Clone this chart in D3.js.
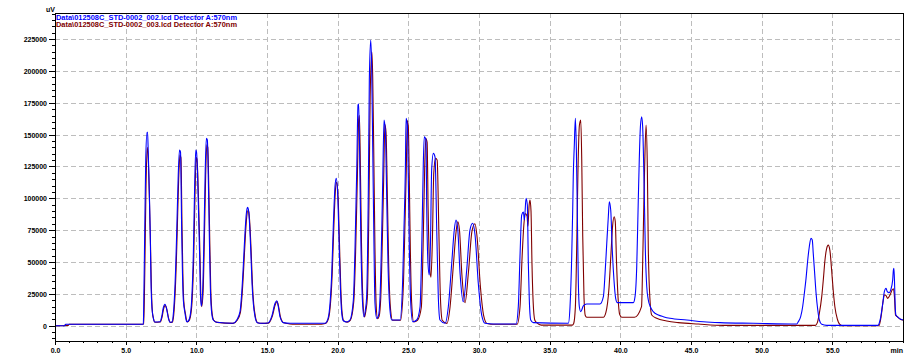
<!DOCTYPE html>
<html>
<head>
<meta charset="utf-8">
<script src="https://cdn.jsdelivr.net/npm/d3@7"></script>
<style>
  body { margin: 0; background: #fff; }
  svg text { font-family: "Liberation Sans", Arial, sans-serif; }
</style>
</head>
<body>
<svg id="chart" width="922" height="355"></svg>
<script>
// Legend / series names
var seriesNames = [
    "Data\\012508C_STD-0002_002.lcd Detector A:570nm",
    "Data\\012508C_STD-0002_003.lcd Detector A:570nm"
];
var seriesColors = ["#0000ff", "#800000"];

// Tick labels
var xTicks = [0, 5, 10, 15, 20, 25, 30, 35, 40, 45, 50, 55];
var yTicks = [0, 25000, 50000, 75000, 100000, 125000, 150000, 175000, 200000, 225000];

// Trace 002 (blue): [time min, signal uV]
var trace002 = [
[0,0],[0.7,0],[0.75,1100],[6.2,1200],[6.25,1300],[6.27,10500],[6.33,58100],[6.42,130000],[6.51,151800],[6.55,151800],
[6.60,135600],[6.67,106500],[6.74,71200],[6.79,35900],[6.86,13900],[6.96,6000],[7.05,2900],[7.43,3100],[7.55,7100],
[7.66,13900],[7.78,16800],[7.90,13100],[8.02,6000],[8.14,2700],[8.28,2900],[8.37,8900],[8.54,46300],[8.61,72800],
[8.72,118300],[8.81,137900],[8.88,136400],[8.96,77700],[9.01,46300],[9.08,20200],[9.20,9700],[9.32,3100],[9.43,3700],
[9.55,7100],[9.67,20200],[9.79,57100],[9.88,109100],[9.96,137900],[10.01,136400],[10.07,124800],[10.17,83000],
[10.24,51600],[10.28,28000],[10.35,15500],[10.45,28000],[10.54,69900],[10.63,122200],[10.71,147100],[10.78,145800],
[10.85,114300],[10.92,69900],[10.99,30600],[11.09,9700],[11.20,4500],[11.44,2700],[12.6,1900],[12.86,4500],
[13.09,11000],[13.21,25400],[13.32,46300],[13.44,72500],[13.54,88200],[13.62,92900],[13.68,91600],[13.75,83000],
[13.85,59400],[13.94,33300],[14.03,17600],[14.15,7100],[14.31,2400],[14.63,1900],[15.07,2100],[15.33,7100],
[15.57,17600],[15.69,19600],[15.80,14900],[15.92,7100],[16.15,2400],[16.63,1900],[19.10,1900],[19.32,5800],
[19.46,17600],[19.58,41100],[19.69,77700],[19.81,109100],[19.90,115700],[20.00,103900],[20.09,69900],[20.19,30600],
[20.29,9700],[20.40,3900],[20.64,2900],[20.87,4500],[21.11,20200],[21.23,62000],[21.35,122200],[21.44,173300],
[21.49,174000],[21.58,114300],[21.65,62000],[21.74,22800],[21.86,7100],[21.96,12300],[22.05,22800],[22.17,106500],
[22.24,192900],[22.34,224300],[22.41,200700],[22.48,140500],[22.57,62000],[22.64,17600],[22.76,5800],[22.88,7600],
[23.00,22800],[23.12,75100],[23.19,114300],[23.28,161500],[23.37,153600],[23.47,101300],[23.56,49000],[23.70,12300],
[23.82,4500],[24.41,4500],[24.60,35900],[24.69,75100],[24.79,122200],[24.84,162800],[24.93,157600],[25.00,114300],
[25.07,62000],[25.17,17600],[25.31,3100],[25.59,4500],[25.83,14900],[25.95,62000],[26.06,127500],[26.13,148400],
[26.25,145800],[26.30,93400],[26.39,49000],[26.48,39800],[26.57,67300],[26.65,122200],[26.77,135300],[26.89,132400],
[27.01,75100],[27.12,22800],[27.24,4500],[27.60,1900],[27.83,14900],[28.07,49000],[28.25,75100],[28.37,83000],
[28.49,76700],[28.66,41100],[28.89,18800],[29.13,43700],[29.36,75100],[29.55,80400],[29.72,71200],[29.95,33300],
[30.19,8400],[30.43,1900],[31.01,1300],[32.62,1300],[32.78,14900],[32.90,54200],[33.02,86900],[33.14,89300],
[33.21,83000],[33.33,100000],[33.42,94700],[33.49,49000],[33.56,20200],[33.66,4500],[33.84,2400],[36.32,1900],
[36.44,14900],[36.56,54200],[36.63,90800],[36.67,117000],[36.74,140500],[36.82,162800],[36.89,137900],[36.96,85600],
[37.03,33300],[37.10,14900],[37.20,11000],[37.38,15500],[37.62,17000],[38.56,17000],[38.80,22800],[38.92,41100],
[39.04,64700],[39.15,85600],[39.22,97300],[39.32,90800],[39.43,59400],[39.55,35900],[39.67,21500],[39.79,18100],
[40.92,18100],[41.04,22800],[41.16,46300],[41.27,98700],[41.34,130100],[41.42,156200],[41.51,164100],[41.58,156200],
[41.68,111800],[41.77,59400],[41.87,30600],[41.98,20200],[42.10,15500],[42.33,11000],[42.69,8400],[43.04,7100],
[43.51,5800],[44.70,4500],[45.87,3100],[47.05,2400],[49.41,1900],[52.48,1300],[52.59,3100],[52.76,7100],[52.90,14900],
[53.02,25400],[53.14,37200],[53.26,51600],[53.37,62000],[53.49,68600],[53.58,67300],[53.65,56800],[53.75,41100],
[53.85,25400],[53.97,12300],[54.08,4500],[54.25,1100],[54.60,300],[58.23,300],[58.38,4500],[58.57,17600],[58.68,26700],
[58.80,29400],[58.89,26700],[59.01,25900],[59.13,28000],[59.27,35900],[59.32,43700],[59.36,45100],[59.41,30600],
[59.45,14900],[59.50,8400],[59.60,7100],[59.74,5800],[60,4500]
];

// Trace 003 (dark red)
var trace003 = [
[0,0],[0.62,0],[0.65,300],[0.95,300],[1.0,1100],[6.2,1200],[6.28,1300],[6.35,40000],[6.44,110000],[6.53,140000],
[6.62,125000],[6.69,95000],[6.76,62000],[6.82,30000],[6.89,11000],[6.98,5000],[7.07,2700],[7.45,2900],[7.57,6500],
[7.68,13000],[7.80,16000],[7.92,12500],[8.04,5800],[8.16,2600],[8.30,2800],[8.40,8500],[8.57,45000],[8.64,71000],
[8.75,115000],[8.84,134000],[8.91,132000],[8.99,76000],[9.04,45000],[9.11,19500],[9.23,9300],[9.35,3000],[9.46,3600],
[9.58,7000],[9.70,19500],[9.82,55000],[9.91,105000],[9.99,132000],[10.04,131000],[10.10,120000],[10.20,80000],
[10.27,50000],[10.31,27000],[10.38,15000],[10.48,27000],[10.57,68000],[10.66,118000],[10.74,142000],[10.81,140000],
[10.88,110000],[10.95,67000],[11.02,29000],[11.12,9300],[11.23,4300],[11.47,2600],[12.6,1800],[12.89,4300],
[13.12,10500],[13.24,24500],[13.35,45000],[13.47,70500],[13.57,86000],[13.65,90500],[13.71,89500],[13.78,81000],
[13.88,58000],[13.97,32500],[14.06,17000],[14.18,7000],[14.34,2300],[14.66,1800],[15.10,2000],[15.36,6900],
[15.60,17000],[15.72,19000],[15.83,14500],[15.95,6900],[16.18,2300],[16.6,1400],[17.0,1100],[18.6,1100],[19.13,1800],
[19.35,5600],[19.49,17000],[19.61,40000],[19.72,75000],[19.84,106000],[19.93,112500],[20.03,101000],[20.12,68000],
[20.22,30000],[20.32,9500],[20.43,3800],[20.67,2800],[20.90,4400],[21.14,19000],[21.27,58000],[21.39,115000],
[21.49,162000],[21.54,165000],[21.62,115000],[21.69,62000],[21.78,22000],[21.90,6800],[22.00,12000],[22.10,22000],
[22.22,100000],[22.30,180000],[22.42,215000],[22.48,195000],[22.55,140000],[22.64,60000],[22.72,17000],[22.82,5500],
[22.93,7300],[23.05,22000],[23.17,72000],[23.25,112000],[23.34,158000],[23.42,152000],[23.52,100000],[23.61,48000],
[23.75,12000],[23.88,4300],[24.45,4300],[24.66,35000],[24.75,74000],[24.85,120000],[24.93,161000],[25.00,156000],
[25.07,113000],[25.14,61000],[25.24,17000],[25.38,3000],[25.65,4300],[25.92,14500],[26.04,60000],[26.16,125000],
[26.24,147000],[26.33,144000],[26.40,92000],[26.50,48000],[26.60,38000],[26.70,66000],[26.80,120000],[26.93,131500],
[27.04,130000],[27.16,74000],[27.27,22000],[27.40,4300],[27.73,1800],[27.95,14500],[28.19,48000],[28.38,74000],
[28.50,81600],[28.62,75000],[28.79,40000],[29.01,18000],[29.26,43000],[29.50,74000],[29.71,80000],[29.86,70000],
[30.09,32000],[30.33,8000],[30.57,1800],[31.10,1100],[32.70,1100],[32.90,14500],[33.05,54000],[33.18,80000],
[33.28,88000],[33.40,86000],[33.46,78000],[33.55,95000],[33.61,98700],[33.68,90000],[33.75,48000],[33.83,19000],
[33.95,4300],[34.10,2300],[34.4,500],[36.6,500],[36.70,1800],[36.82,15000],[36.91,60000],[37.00,120000],[37.10,157000],
[37.20,161500],[37.27,130000],[37.34,70000],[37.43,22000],[37.52,8000],[37.62,6600],[38.80,6600],[38.97,10000],
[39.20,30000],[39.33,55000],[39.45,78000],[39.56,85500],[39.64,82000],[39.73,50000],[39.84,22000],[39.95,9000],
[40.10,6600],[41.00,6600],[41.50,15000],[41.60,60000],[41.72,125000],[41.82,157500],[41.91,125000],[41.98,60000],
[42.10,20000],[42.22,8400],[42.57,5800],[43.28,3700],[44.10,2400],[45.52,1300],[47.29,300],[53.80,300],[53.94,2400],
[54.08,9700],[54.25,22800],[54.37,37200],[54.48,51600],[54.60,60700],[54.71,63300],[54.83,59000],[54.95,43700],
[55.06,28000],[55.18,14900],[55.34,5800],[55.53,1100],[55.77,0],[58.30,0],[58.45,7100],[58.57,17600],[58.69,24300],
[58.80,23600],[58.92,21500],[59.09,24300],[59.23,28000],[59.32,29000],[59.40,22000],[59.47,8400],[59.59,7100],
[59.95,4500],[60,4500]
];

// Plot area
var margin = { top: 13, right: 19, bottom: 14, left: 55 };
var W = 922, H = 355;
var width  = W - margin.left - margin.right;
var height = H - margin.top - margin.bottom;

var x = d3.scaleLinear().domain([0, 60]).range([0, width]);
var y = d3.scaleLinear().domain([-12000, 245500]).range([height, 0]);

var svg = d3.select("#chart")
    .append("g")
    .attr("transform", "translate(" + margin.left + "," + margin.top + ")");

svg.append("defs").append("clipPath")
    .attr("id", "plot-clip")
    .append("rect")
    .attr("width", width)
    .attr("height", height);

// Grid
var grid = svg.append("g").attr("class", "grid")
    .style("stroke", "#bdbdbd")
    .style("stroke-dasharray", "5,3")
    .attr("shape-rendering", "crispEdges");

grid.selectAll("line.h")
    .data(yTicks)
    .enter().append("line")
    .attr("class", "h")
    .attr("x1", 0).attr("x2", width)
    .attr("y1", d => Math.round(y(d)) + 0.5)
    .attr("y2", d => Math.round(y(d)) + 0.5);

grid.selectAll("line.v")
    .data(xTicks.slice(1))
    .enter().append("line")
    .attr("class", "v")
    .attr("y1", 0).attr("y2", height)
    .attr("x1", d => Math.round(x(d)) + 0.5)
    .attr("x2", d => Math.round(x(d)) + 0.5);

// Traces (red first so blue sits on top)
var line = d3.line()
    .x(d => x(d[0]))
    .y(d => y(d[1]))
    .curve(d3.curveMonotoneX);

var traces = svg.append("g").attr("clip-path", "url(#plot-clip)");
[[trace003, seriesColors[1]], [trace002, seriesColors[0]]].forEach(function(tr) {
    traces.append("path")
        .datum(tr[0])
        .attr("d", line)
        .style("fill", "none")
        .style("stroke", tr[1])
        .style("stroke-width", 1.1);
});

// Frame
svg.append("rect")
    .attr("x", 0.5).attr("y", 0.5)
    .attr("width", width).attr("height", height)
    .style("fill", "none")
    .style("stroke", "#000")
    .attr("shape-rendering", "crispEdges");

// Y axis
var yMinor = d3.range(-10000, 245001, 5000);
var yAxisMinor = svg.append("g")
    .call(d3.axisLeft(y).tickValues(yMinor).tickSize(3).tickFormat(""));
var yAxisG = svg.append("g")
    .call(d3.axisLeft(y).tickValues(yTicks).tickSize(6).tickPadding(2).tickFormat(d3.format("d")));

// X axis
var xMinor = d3.range(0, 61, 1);
var xAxisMinor = svg.append("g")
    .attr("transform", "translate(0," + height + ")")
    .call(d3.axisBottom(x).tickValues(xMinor).tickSize(2).tickFormat(""));
var xAxisG = svg.append("g")
    .attr("transform", "translate(0," + height + ")")
    .call(d3.axisBottom(x).tickValues(xTicks).tickSize(4).tickFormat(d3.format(".1f")));

[yAxisMinor, yAxisG, xAxisMinor, xAxisG].forEach(function(g) {
    g.select(".domain").remove();
    g.selectAll("line").style("stroke", "#000").attr("shape-rendering", "crispEdges");
    g.selectAll("text")
        .style("font-size", "7px")
        .style("font-weight", "bold")
        .style("fill", "#000");
});
xAxisG.selectAll("text").attr("y", 11.5).attr("dy", null);
yAxisG.selectAll("text").attr("x", -8).attr("dy", "0.35em");

// Unit labels
svg.append("text")
    .attr("x", width).attr("y", height + 11.5)
    .attr("text-anchor", "end")
    .style("font-size", "7px").style("font-weight", "bold")
    .text("min");

svg.append("text")
    .attr("x", 0).attr("y", -1.5)
    .attr("text-anchor", "end")
    .style("font-size", "7px").style("font-weight", "bold")
    .text("uV");

// Legend
svg.selectAll("text.legend")
    .data(seriesNames)
    .enter().append("text")
    .attr("class", "legend")
    .attr("x", 1)
    .attr("y", (d, i) => 7 + i * 7.3)
    .attr("textLength", 181)
    .attr("lengthAdjust", "spacingAndGlyphs")
    .style("font-size", "7px")
    .style("font-weight", "bold")
    .style("fill", (d, i) => seriesColors[i])
    .text(d => d);
</script>
</body>
</html>
